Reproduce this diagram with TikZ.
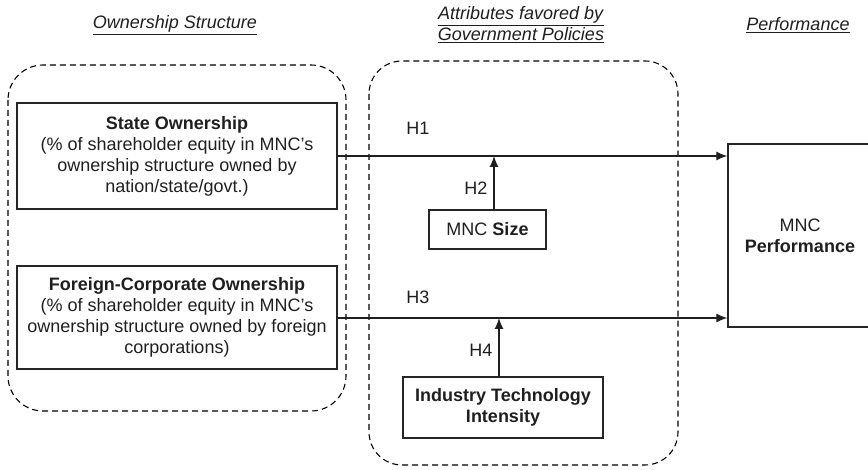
\documentclass[tikz,border=0pt]{standalone}
\usepackage{fontspec}
\setmainfont{Liberation Sans}
\usetikzlibrary{arrows.meta}
\begin{document}
\begin{tikzpicture}[x=1pt,y=-1pt,
  every node/.style={font=\fontsize{18}{21}\selectfont, inner sep=0pt, text=black!88},
  box/.style={draw=black!85, line width=1.3pt, align=center},
  group/.style={draw=black, line width=1.1pt, dash pattern=on 6pt off 4pt},
  title/.style={align=center},
  hlabel/.style={},
  link/.style={draw=black!88, line width=1.2pt, -{Latex[length=11pt,width=9pt]}}
]
\useasboundingbox (0,0) rectangle (868,470);

% dashed groups
\draw[group, rounded corners=35pt] (8,65) rectangle (346,411);
\draw[group, rounded corners=33pt] (369,61) rectangle (678,465);

% titles
\node[title] (t1) at (175,25) {\underline{\textit{Ownership Structure}}};
\node[title] (t2) at (521,25) {\underline{\textit{Attributes favored by}}\\\underline{\textit{Government Policies}}};
\node[title] (t3) at (798,25) {\underline{\textit{Performance}}};

% boxes
\node[box, minimum width=320pt, minimum height=106pt] (state) at (177,156)
  {\textbf{State Ownership}\\(\% of shareholder equity in MNC’s\\ownership structure owned by\\nation/state/govt.)};
\node[box, minimum width=320pt, minimum height=103pt] (foreign) at (177,317.5)
  {\textbf{Foreign-Corporate Ownership}\\(\% of shareholder equity in MNC’s\\ownership structure owned by foreign\\corporations)};
\node[box, minimum width=117pt, minimum height=39pt] (size) at (487.5,229.5) {MNC \textbf{Size}};
\node[box, minimum width=200pt, minimum height=61pt] (iti) at (503,407.5) {\textbf{Industry Technology}\\\textbf{Intensity}};
\node[box, minimum width=144pt, minimum height=183pt] (perf) at (800,235.5) {MNC\\\textbf{Performance}};

% connectors
\coordinate (h2) at (494,156);
\coordinate (h4) at (499,318);
\draw[link] (state.east) -- (state.east -| perf.west);
\draw[link] (foreign.east |- h4) -- (h4 -| perf.west);
\draw[link] (size.north -| h2) -- (h2);
\draw[link] (iti.north -| h4) -- (h4);

% labels
\node[hlabel] (l1) at (418,128) {H1};
\node[hlabel] (l2) at (476,188) {H2};
\node[hlabel] (l3) at (418,297) {H3};
\node[hlabel] (l4) at (481,350) {H4};
\end{tikzpicture}
\end{document}
